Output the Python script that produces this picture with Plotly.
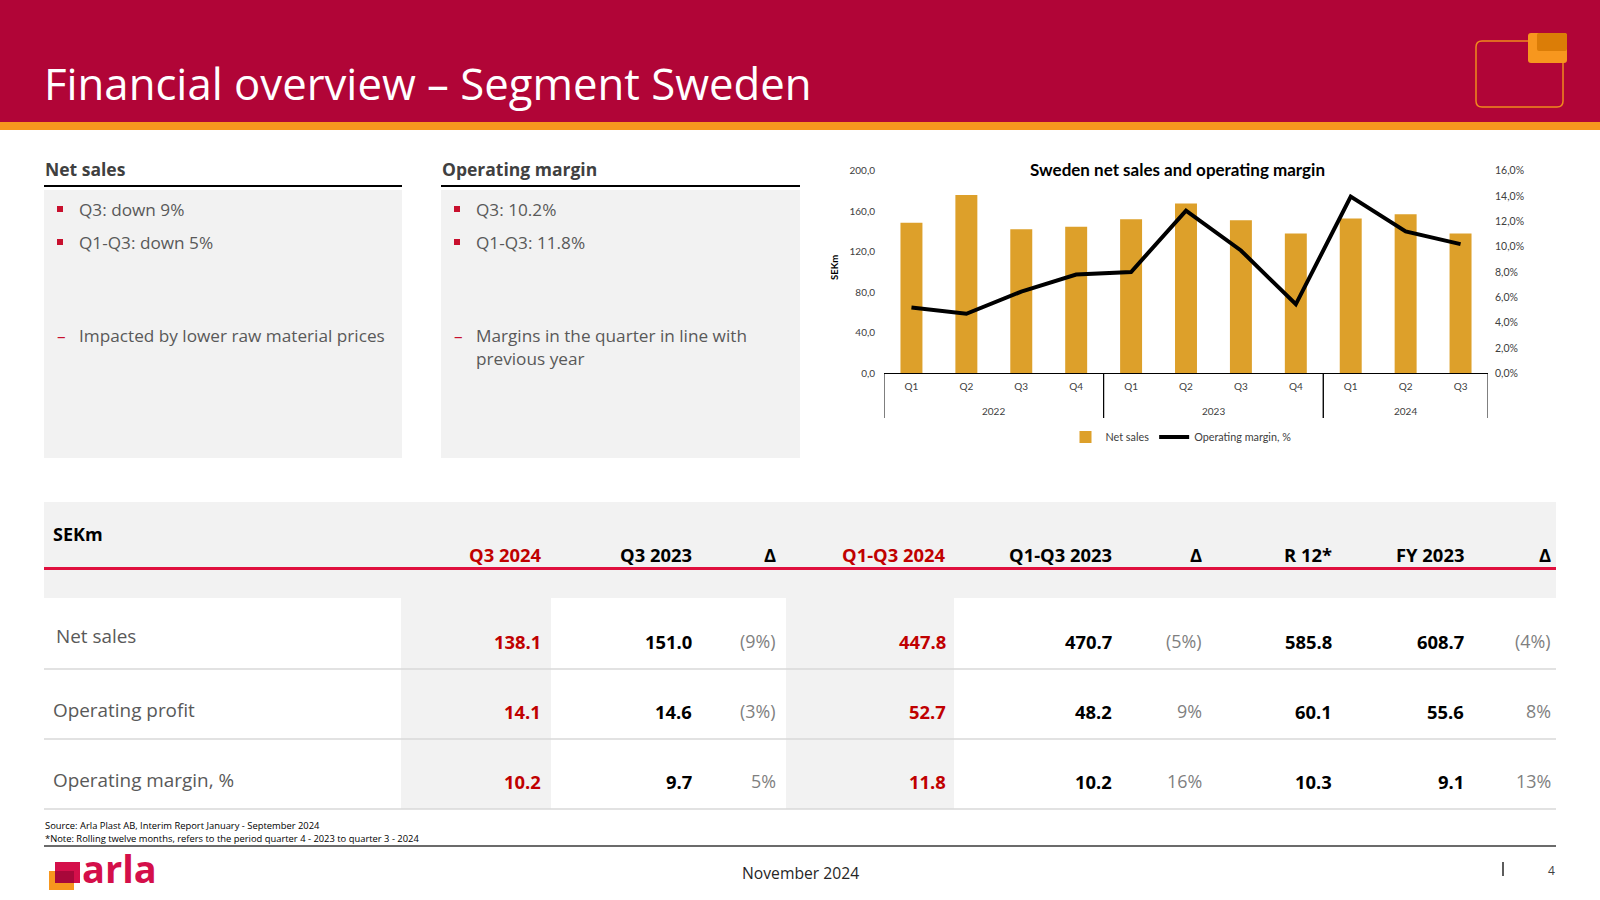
import plotly.graph_objects as go

W, H = 1600, 900

# ---------------- data ----------------
years = ["2022"] * 4 + ["2023"] * 4 + ["2024"] * 3
quarters = ["Q1", "Q2", "Q3", "Q4", "Q1", "Q2", "Q3", "Q4", "Q1", "Q2", "Q3"]
net_sales = [148.7, 176.0, 142.1, 144.7, 152.1, 167.6, 151.0, 138.0, 152.8, 156.9, 138.1]
op_margin_pct = [5.2, 4.7, 6.45, 7.8, 8.0, 12.85, 9.7, 5.45, 13.95, 11.2, 10.2]

left_ticks = [0, 40, 80, 120, 160, 200]
right_ticks = [0.0, 0.02, 0.04, 0.06, 0.08, 0.10, 0.12, 0.14, 0.16]

table_columns = ["Q3 2024", "Q3 2023", "Δ", "Q1-Q3 2024", "Q1-Q3 2023", "Δ", "R 12*", "FY 2023", "Δ"]
table_rows = ["Net sales", "Operating profit", "Operating margin, %"]
col_q3_2024 = ["138.1", "14.1", "10.2"]
col_q3_2023 = ["151.0", "14.6", "9.7"]
col_q3_delta = ["(9%)", "(3%)", "5%"]
col_ytd_2024 = ["447.8", "52.7", "11.8"]
col_ytd_2023 = ["470.7", "48.2", "10.2"]
col_ytd_delta = ["(5%)", "9%", "16%"]
col_r12 = ["585.8", "60.1", "10.3"]
col_fy2023 = ["608.7", "55.6", "9.1"]
col_fy_delta = ["(4%)", "8%", "13%"]
table_values = [col_q3_2024, col_q3_2023, col_q3_delta, col_ytd_2024, col_ytd_2023,
                col_ytd_delta, col_r12, col_fy2023, col_fy_delta]
col_kind = ["hl", "n", "d", "hl", "n", "d", "n", "n", "d"]

net_sales_bullets = ["Q3: down 9%", "Q1-Q3: down 5%"]
net_sales_sub = ["Impacted by lower raw material prices"]
margin_bullets = ["Q3: 10.2%", "Q1-Q3: 11.8%"]
margin_sub = ["Margins in the quarter in line with", "previous year"]

# ---------------- helpers ----------------
def X(p):
    return p / W


def Y(p):
    return 1 - p / H


shapes = []
annotations = []
SANS = "Open Sans, Noto Sans, sans-serif"
CHART = "Lato, Open Sans, sans-serif"


def rect(x0, y0, x1, y1, fill):
    shapes.append(dict(type="rect", xref="paper", yref="paper", x0=X(x0), x1=X(x1),
                       y0=Y(y1), y1=Y(y0), fillcolor=fill, line=dict(width=0), layer="below"))


def hline(x0, x1, y, color, w):
    shapes.append(dict(type="line", xref="paper", yref="paper", x0=X(x0), x1=X(x1),
                       y0=Y(y), y1=Y(y), line=dict(color=color, width=w)))


def vline(x, y0, y1, color, w):
    shapes.append(dict(type="line", xref="paper", yref="paper", x0=X(x), x1=X(x),
                       y0=Y(y0), y1=Y(y1), line=dict(color=color, width=w)))


def rounded(x0, y0, x1, y1, r, fill=None, line_color=None, lw=0):
    pts = [
        ("M", [(x0 + r, y0)]), ("L", [(x1 - r, y0)]), ("Q", [(x1, y0), (x1, y0 + r)]),
        ("L", [(x1, y1 - r)]), ("Q", [(x1, y1), (x1 - r, y1)]), ("L", [(x0 + r, y1)]),
        ("Q", [(x0, y1), (x0, y1 - r)]), ("L", [(x0, y0 + r)]), ("Q", [(x0, y0), (x0 + r, y0)]),
    ]
    path = ""
    for cmd, ps in pts:
        path += cmd + " " + " ".join(f"{X(a):.5f},{Y(b):.5f}" for a, b in ps) + " "
    path += "Z"
    shapes.append(dict(type="path", xref="paper", yref="paper", path=path,
                       fillcolor=fill if fill else "rgba(0,0,0,0)",
                       line=dict(color=line_color if line_color else "rgba(0,0,0,0)", width=lw)))


def text(x, y, s, size, color, bold=False, xanchor="left", family=SANS, angle=0):
    annotations.append(dict(x=X(x), y=Y(y), xref="paper", yref="paper",
                            text=f"<b>{s}</b>" if bold else s, showarrow=False,
                            xanchor=xanchor, yanchor="middle", textangle=angle,
                            font=dict(size=size, color=color, family=family)))


# ---------------- header ----------------
RED = "#B10537"
ORANGE = "#F7971E"
rect(0, 0, W, 122, RED)
rect(0, 122, W, 130, ORANGE)
text(42, 83, "Financial overview – Segment Sweden", 43.7, "white")
rounded(1476, 41, 1563, 107, 6, line_color="#F08A1D", lw=1.5)
rounded(1528, 33, 1567, 63, 3, fill=ORANGE)
rounded(1537, 33, 1567, 51, 2, fill="#DB7D07")

# ---------------- text boxes ----------------
GRAY_BG = "#F2F2F2"
TXT = "#595959"
BULLET_RED = "#C8102E"


def text_box(x0, x1, heading, bullets, subs):
    text(x0 - 1, 169, heading, 17.5, "#404040", bold=True)
    hline(x0, x1, 186, "#000000", 2)
    rect(x0, 190, x1, 458, GRAY_BG)
    for i, b in enumerate(bullets):
        yy = 209 + i * 33
        rect(x0 + 13, yy - 3, x0 + 19, yy + 3, BULLET_RED)
        shapes[-1]["layer"] = "above"
        text(x0 + 33, yy, b, 17.2, TXT)
    for j, s in enumerate(subs):
        yy = 336 + j * 22
        if j == 0:
            text(x0 + 11, yy, "–", 17.2, BULLET_RED)
        text(x0 + 33, yy, s, 17.2, TXT)


text_box(44, 402, "Net sales", net_sales_bullets, net_sales_sub)
text_box(441, 800, "Operating margin", margin_bullets, margin_sub)

# ---------------- chart ----------------
idx = list(range(len(quarters)))
fig = go.Figure()
fig.add_trace(go.Bar(x=idx, y=net_sales, name="Net sales",
                     marker=dict(color="#DDA02A", line=dict(width=0)), width=0.4))
fig.add_trace(go.Scatter(x=idx, y=[v / 100 for v in op_margin_pct],
                         name="Operating margin, %", yaxis="y2", mode="lines",
                         line=dict(color="#000000", width=4)))

# year group labels and dividers (multi-level category axis)
groups = []
for i, yv in enumerate(years):
    if not groups or groups[-1][0] != yv:
        groups.append([yv, i, i])
    else:
        groups[-1][2] = i
for g, start, end in groups:
    annotations.append(dict(x=(start + end) / 2, y=Y(411), xref="x", yref="paper", text=g,
                            showarrow=False, xanchor="center", yanchor="middle",
                            font=dict(size=10, color="#404040", family=CHART)))
    for edge in (start - 0.5, end + 0.5):
        shapes.append(dict(type="line", xref="x", yref="paper", x0=edge, x1=edge,
                           y0=Y(373.3), y1=Y(418), line=dict(color="#000000", width=1)))

text(1177, 169, "Sweden net sales and operating margin", 17, "#000000", bold=True,
     xanchor="center", family=CHART)
text(835, 268, "SEKm", 9.5, "#000000", bold=True, xanchor="center", family=CHART, angle=-90)

# ---------------- table ----------------
TBL_X0, TBL_X1 = 44, 1556
rect(TBL_X0, 502, TBL_X1, 598, GRAY_BG)
hline(TBL_X0, TBL_X1, 568.5, "#E0103E", 3)
rect(401, 598, 551, 809, GRAY_BG)
rect(786, 598, 954, 809, GRAY_BG)
for yy in [669, 739, 809]:
    hline(TBL_X0, TBL_X1, yy, "#D9D9D9", 1.5)

text(51, 534, "SEKm", 18, "#000000", bold=True)
col_right = [543, 694, 778, 948, 1114, 1204, 1334, 1466, 1553]
HL = "#C00000"
for c, name in enumerate(table_columns):
    color = HL if col_kind[c] == "hl" else "#000000"
    text(col_right[c], 554, name, 18.4, color, bold=True, xanchor="right")

row_label_y = [636, 710, 780]
row_val_y = [641, 711, 781]
for r, lab in enumerate(table_rows):
    text(51 if r else 54, row_label_y[r], lab, 18.9, TXT)
    for c in range(len(table_columns)):
        v = table_values[c][r]
        k = col_kind[c]
        if k == "hl":
            text(col_right[c], row_val_y[r], v, 18.4, HL, bold=True, xanchor="right")
        elif k == "n":
            text(col_right[c], row_val_y[r], v, 18.4, "#000000", bold=True, xanchor="right")
        else:
            text(col_right[c], row_val_y[r], v, 17.9, "#7F7F7F", xanchor="right")

# ---------------- footer ----------------
text(43, 825, "Source: Arla Plast AB, Interim Report January - September 2024", 9.4, "#000000")
text(43, 838, "*Note: Rolling twelve months, refers to the period quarter 4 - 2023 to quarter 3 - 2024", 9.4, "#000000")
hline(44, 1556, 846, "#3A3A3A", 1.5)
text(800, 873, "November 2024", 15.7, "#262626", xanchor="center")
vline(1503, 862, 876, "#262626", 1.5)
text(1551, 870, "4", 12, "#404040", xanchor="center")
rect(49, 871, 74, 890, ORANGE)
rect(55, 862, 80, 883, "#D40F4A")
rect(55, 871, 74, 883, "#A8083A")
text(80, 868, "arla", 38, "#D40F4A", bold=True, family="Open Sans, sans-serif")

fig.update_layout(
    width=W, height=H,
    margin=dict(l=0, r=0, t=0, b=0, pad=0, autoexpand=False),
    paper_bgcolor="white", plot_bgcolor="rgba(0,0,0,0)",
    separators=", ",
    showlegend=True,
    legend=dict(orientation="h", x=X(1181), y=Y(437), xanchor="center", yanchor="middle",
                font=dict(size=10.8, color="#404040", family=CHART),
                bgcolor="rgba(0,0,0,0)", itemwidth=30, tracegroupgap=0),
    xaxis=dict(domain=[X(884), X(1488)], anchor="y", range=[-0.5, len(idx) - 0.5],
               tickvals=idx, ticktext=quarters, ticklabelstandoff=4, automargin=False,
               showline=True, linecolor="#000000", linewidth=1, ticks="",
               zeroline=False, showgrid=False,
               tickfont=dict(size=10, color="#404040", family=CHART)),
    yaxis=dict(domain=[Y(373.3), Y(170.7)], range=[0, 200], tickvals=left_ticks,
               tickformat=".1f", showgrid=False, zeroline=False, showline=False, ticks="",
               ticklabelstandoff=8, automargin=False,
               tickfont=dict(size=10, color="#404040", family=CHART)),
    yaxis2=dict(overlaying="y", side="right", anchor="x", range=[0, 0.16], tickvals=right_ticks,
                tickformat=".1%", showgrid=False, zeroline=False, showline=False, ticks="",
                ticklabelstandoff=6, automargin=False,
                tickfont=dict(size=10.5, color="#404040", family=CHART)),
    shapes=shapes,
    annotations=annotations,
)

fig.write_html(
    "out.html",
    config={"displayModeBar": False},
    post_script=(
        "document.documentElement.style.margin='0';document.body.style.margin='0';"
        "document.body.style.overflow='hidden';document.documentElement.style.overflow='hidden';"
        "var gd=document.getElementById('{plot_id}');"
        "gd.style.position='fixed';gd.style.top='0px';gd.style.left='0px';"
    ),
)
